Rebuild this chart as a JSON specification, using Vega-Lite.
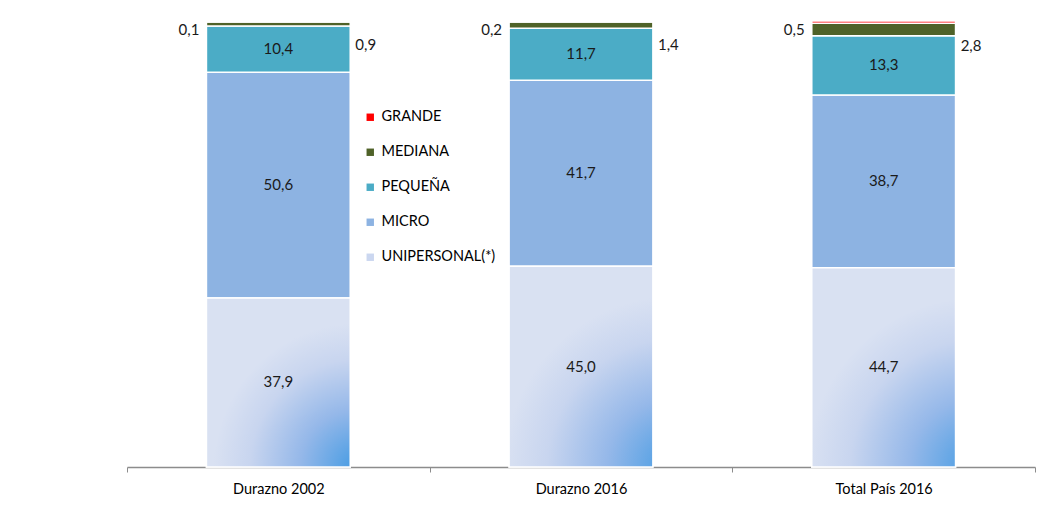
{
  "$schema": "https://vega.github.io/schema/vega-lite/v6.json",
  "width": 908,
  "height": 446,
  "autosize": "none",
  "padding": {"left": 127, "top": 21, "right": 12, "bottom": 42},
  "background": "white",
  "config": {
    "locale": {"number": {"decimal": ",", "thousands": ".", "grouping": [3], "currency": ["", " €"]}},
    "view": {"stroke": null},
    "font": "Lato"
  },
  "data": {
    "values": [
      {"grupo": "Durazno 2002", "tipo": "UNIPERSONAL(*)", "rank": 1, "valor": 37.9},
      {"grupo": "Durazno 2002", "tipo": "MICRO", "rank": 2, "valor": 50.6},
      {"grupo": "Durazno 2002", "tipo": "PEQUEÑA", "rank": 3, "valor": 10.4},
      {"grupo": "Durazno 2002", "tipo": "MEDIANA", "rank": 4, "valor": 0.9},
      {"grupo": "Durazno 2002", "tipo": "GRANDE", "rank": 5, "valor": 0.1},
      {"grupo": "Durazno 2016", "tipo": "UNIPERSONAL(*)", "rank": 1, "valor": 45.0},
      {"grupo": "Durazno 2016", "tipo": "MICRO", "rank": 2, "valor": 41.7},
      {"grupo": "Durazno 2016", "tipo": "PEQUEÑA", "rank": 3, "valor": 11.7},
      {"grupo": "Durazno 2016", "tipo": "MEDIANA", "rank": 4, "valor": 1.4},
      {"grupo": "Durazno 2016", "tipo": "GRANDE", "rank": 5, "valor": 0.2},
      {"grupo": "Total País 2016", "tipo": "UNIPERSONAL(*)", "rank": 1, "valor": 44.7},
      {"grupo": "Total País 2016", "tipo": "MICRO", "rank": 2, "valor": 38.7},
      {"grupo": "Total País 2016", "tipo": "PEQUEÑA", "rank": 3, "valor": 13.3},
      {"grupo": "Total País 2016", "tipo": "MEDIANA", "rank": 4, "valor": 2.8},
      {"grupo": "Total País 2016", "tipo": "GRANDE", "rank": 5, "valor": 0.5}
    ]
  },
  "encoding": {
    "x": {
      "field": "grupo",
      "type": "nominal",
      "sort": ["Durazno 2002", "Durazno 2016", "Total País 2016"],
      "scale": {"paddingInner": 0, "paddingOuter": 0},
      "axis": {
        "title": null,
        "grid": false,
        "labelFontSize": 14.5,
        "labelPadding": 10,
        "labelAngle": 0,
        "labelColor": "#000000",
        "tickBand": "extent",
        "tickColor": "#8C8C8C",
        "tickSize": 5,
        "domainColor": "#8C8C8C",
        "domainWidth": 1.5
      }
    },
    "y": {
      "field": "valor",
      "type": "quantitative",
      "stack": "zero",
      "scale": {"domain": [0, 100], "nice": false},
      "axis": {
        "title": null,
        "grid": true,
        "gridColor": "#8C8C8C",
        "gridWidth": 1.2,
        "values": [0, 10, 20, 30, 40, 50, 60, 70, 80, 90, 100],
        "format": ".1f",
        "labelExpr": "datum.label + '%'",
        "labelPadding": 6,
        "labelFontSize": 15,
        "labelColor": "#000000",
        "tickColor": "#8C8C8C",
        "tickSize": 5,
        "domainColor": "#8C8C8C",
        "domainWidth": 1.5
      }
    },
    "detail": {"field": "tipo"},
    "order": {"field": "rank", "type": "quantitative"}
  },
  "layer": [
    {
      "mark": {"type": "bar", "width": {"band": 0.475}, "stroke": "white", "strokeWidth": 1.5},
      "encoding": {
        "color": {
          "field": "tipo",
          "type": "nominal",
          "scale": {
            "domain": ["GRANDE", "MEDIANA", "PEQUEÑA", "MICRO", "UNIPERSONAL(*)"],
            "range": ["#FF0000", "#4F6228", "#4BACC6", "#8DB3E2", "#CBD7F0"]
          },
          "legend": {
            "title": null,
            "orient": "none",
            "legendX": 236,
            "legendY": 89,
            "symbolType": "square",
            "symbolSize": 55,
            "symbolStrokeWidth": 0,
            "labelFontSize": 14.5,
            "labelColor": "#000000",
            "labelOffset": 4,
            "rowPadding": 20
          }
        }
      }
    },
    {
      "transform": [{"filter": "datum.rank == 1"}],
      "mark": {
        "type": "bar",
        "width": {"band": 0.475},
        "stroke": "white",
        "strokeWidth": 1.5,
        "fill": {
          "gradient": "radial",
          "x1": 0.97, "y1": 1.0, "r1": 0,
          "x2": 0.97, "y2": 1.0, "r2": 0.85,
          "stops": [
            {"offset": 0, "color": "#449BE3"},
            {"offset": 0.4, "color": "#95B8E9"},
            {"offset": 0.75, "color": "#C8D5EF"},
            {"offset": 1, "color": "#D9E1F2"}
          ]
        }
      },
      "encoding": {}
    },
    {
      "mark": {"type": "text", "fontSize": 15, "color": "#1A1A1A", "baseline": "middle"},
      "encoding": {
        "y": {"field": "valor", "type": "quantitative", "stack": "zero", "bandPosition": 0.5, "axis": null},
        "text": {
          "condition": {"test": "datum.rank >= 4", "value": ""},
          "field": "valor",
          "type": "quantitative",
          "format": ".1f"
        }
      }
    },
    {
      "mark": {"type": "text", "fontSize": 15, "color": "#1A1A1A", "baseline": "middle", "align": "right", "dx": -79, "dy": 9},
      "encoding": {
        "text": {
          "condition": {"test": "datum.rank != 5", "value": ""},
          "field": "valor",
          "type": "quantitative",
          "format": ".1f"
        }
      }
    },
    {
      "mark": {"type": "text", "fontSize": 15, "color": "#1A1A1A", "baseline": "middle", "align": "left", "dx": 77, "dy": 23},
      "encoding": {
        "text": {
          "condition": {"test": "datum.rank != 4", "value": ""},
          "field": "valor",
          "type": "quantitative",
          "format": ".1f"
        }
      }
    }
  ]
}
